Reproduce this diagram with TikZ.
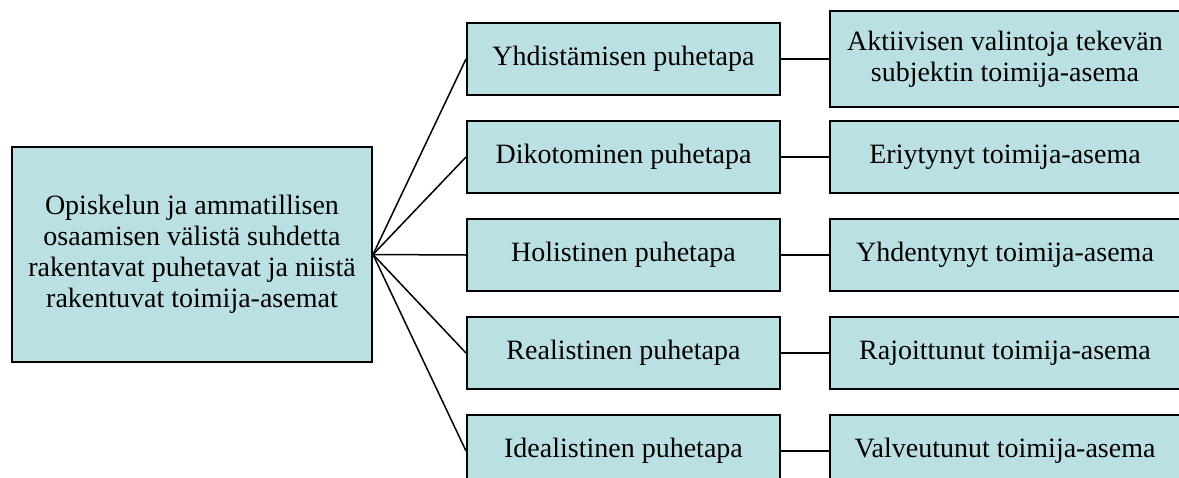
\documentclass[tikz,border=0pt]{standalone}
\usepackage{fontspec}
\setmainfont{Liberation Serif}
\usepackage{tikz}
\usetikzlibrary{positioning}

\definecolor{laatikko}{RGB}{187,224,227}

\begin{document}
\begin{tikzpicture}[
    x=0.5pt, y=-0.5pt,
    font=\fontsize{14}{15.5}\selectfont,
    aihe/.style={
        rectangle, draw=black, fill=laatikko, line width=1pt,
        minimum width=180pt, minimum height=107.5pt,
        align=center, inner sep=2pt
    },
    puhetapa/.style={
        rectangle, draw=black, fill=laatikko, line width=1pt,
        minimum width=156.5pt, minimum height=36pt,
        align=center, inner sep=2pt
    },
    asema/.style={
        rectangle, draw=black, fill=laatikko, line width=1pt,
        minimum width=175pt, minimum height=36pt,
        align=center, inner sep=2pt
    },
    yhteys/.style={line width=0.75pt, color=black}
]
\useasboundingbox (0,0) rectangle (1179,477);
\node (paa) [aihe] at (192,254.5) {Opiskelun ja ammatillisen\\osaamisen välistä suhdetta\\rakentavat puhetavat ja niistä\\rakentuvat toimija-asemat};
\node (holi) [puhetapa] at (623.5,255) {Holistinen puhetapa};
\node (diko) [puhetapa, above=12pt of holi] {Dikotominen puhetapa};
\node (yhdi) [puhetapa, above=12pt of diko] {Yhdistämisen puhetapa};
\node (real) [puhetapa, below=12pt of holi] {Realistinen puhetapa};
\node (idea) [puhetapa, below=12pt of real] {Idealistinen puhetapa};
\node (aktiiv) [asema, minimum height=48pt, right=24pt of yhdi] {Aktiivisen valintoja tekevän\\subjektin toimija-asema};
\node (eriyt) [asema, right=24pt of diko] {Eriytynyt toimija-asema};
\node (yhden) [asema, right=24pt of holi] {Yhdentynyt toimija-asema};
\node (rajoit) [asema, right=24pt of real] {Rajoittunut toimija-asema};
\node (valve) [asema, right=24pt of idea] {Valveutunut toimija-asema};
\draw [yhteys] (paa.east)--(yhdi.west);
\draw [yhteys] (paa.east)--(diko.west);
\draw [yhteys] (paa.east)--(holi.west);
\draw [yhteys] (paa.east)--(real.west);
\draw [yhteys] (paa.east)--(idea.west);
\draw [yhteys] (yhdi)--(aktiiv);
\draw [yhteys] (diko)--(eriyt);
\draw [yhteys] (holi)--(yhden);
\draw [yhteys] (real)--(rajoit);
\draw [yhteys] (idea)--(valve);
\end{tikzpicture}
\end{document}
